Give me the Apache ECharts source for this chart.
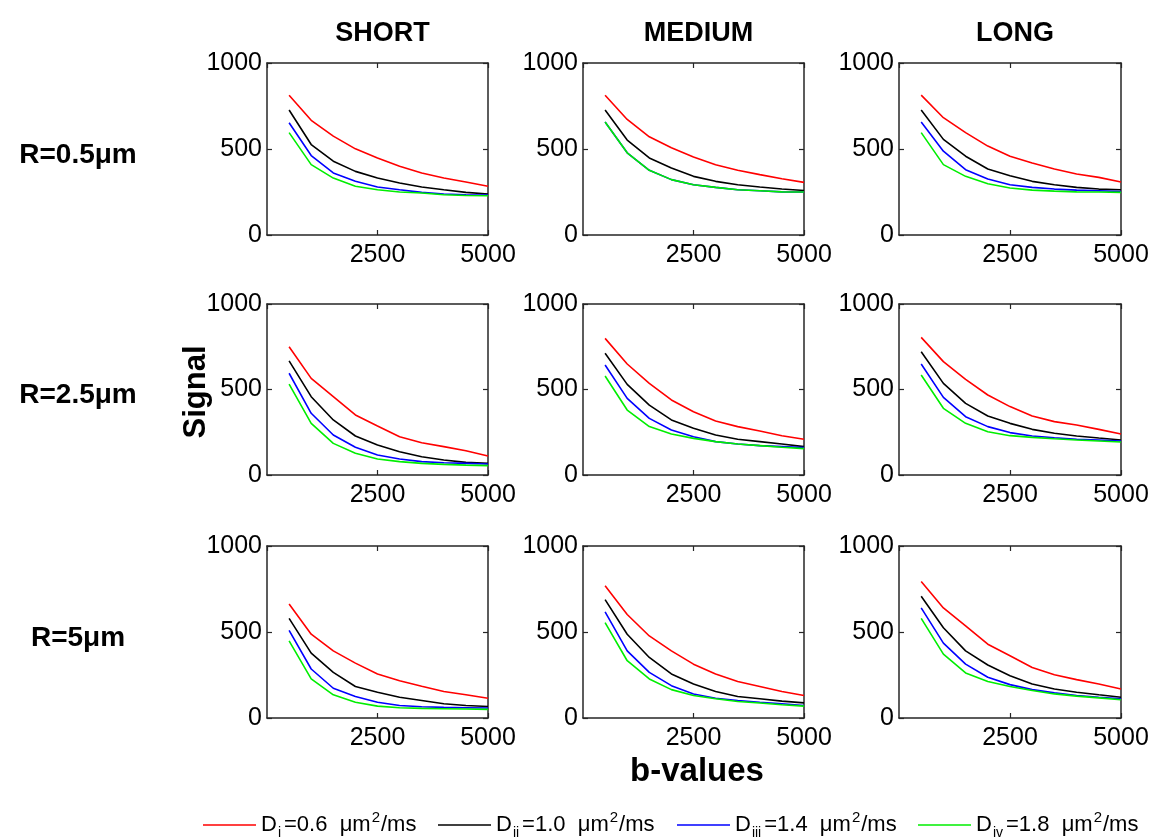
<!DOCTYPE html>
<html>
<head>
<meta charset="utf-8">
<script src="https://cdn.jsdelivr.net/npm/echarts@6/dist/echarts.min.js"></script>
<style>
html,body{margin:0;padding:0;background:#fff;}
#chart{width:1154px;height:839px;}
</style>
</head>
<body>
<div id="chart"></div>
<script>
// ---- data ----
const bValues = [500, 1000, 1500, 2000, 2500, 3000, 3500, 4000, 4500, 5000];
const columnTitles = ['SHORT', 'MEDIUM', 'LONG'];
const rowTitles = ['R=0.5\u03bcm', 'R=2.5\u03bcm', 'R=5\u03bcm'];
const seriesNames = ['Di', 'Dii', 'Diii', 'Div'];
const seriesLabels = [['i', '0.6'], ['ii', '1.0'], ['iii', '1.4'], ['iv', '1.8']];
const xTicks = [0, 2500, 5000];
const yTicks = [0, 500, 1000];

// each panel: [Di, Dii, Diii, Div] signal vs bValues
const R05_SHORT = [
  [813, 667, 575, 501, 448, 400, 361, 331, 308, 283],
  [727, 526, 429, 370, 331, 302, 279, 263, 248, 238],
  [653, 462, 361, 312, 279, 263, 248, 238, 234, 232],
  [595, 409, 331, 283, 263, 250, 244, 234, 230, 228]
];
const R05_MEDIUM = [
  [813, 672, 571, 507, 454, 409, 376, 351, 327, 306],
  [727, 552, 448, 390, 341, 312, 292, 279, 267, 259],
  [657, 478, 376, 322, 292, 277, 263, 257, 251, 250],
  [657, 478, 376, 322, 292, 277, 263, 257, 251, 250]
];
const R05_LONG = [
  [813, 682, 595, 517, 458, 419, 384, 355, 335, 308],
  [727, 556, 458, 384, 345, 312, 292, 277, 267, 263],
  [657, 487, 380, 326, 292, 277, 267, 261, 257, 253],
  [595, 409, 341, 298, 273, 261, 255, 251, 250, 248]
];
const R25_SHORT = [
  [750, 565, 458, 351, 287, 224, 189, 166, 142, 111],
  [667, 458, 322, 228, 175, 136, 107, 88, 74, 68],
  [595, 361, 234, 162, 117, 94, 78, 72, 68, 64],
  [532, 302, 185, 127, 94, 78, 68, 62, 58, 55]
];
const R25_MEDIUM = [
  [799, 649, 536, 439, 370, 316, 283, 257, 230, 209],
  [712, 530, 409, 322, 273, 234, 209, 195, 181, 166],
  [643, 448, 331, 263, 224, 195, 181, 172, 166, 160],
  [579, 380, 283, 240, 214, 195, 181, 172, 162, 154]
];
const R25_LONG = [
  [805, 663, 559, 468, 400, 345, 312, 292, 267, 240],
  [721, 536, 419, 345, 302, 267, 244, 228, 216, 205],
  [649, 454, 341, 283, 248, 228, 218, 209, 205, 199],
  [585, 390, 302, 253, 230, 220, 212, 205, 199, 193]
];
const R5_SHORT = [
  [663, 487, 390, 319, 256, 217, 185, 154, 135, 115],
  [579, 377, 265, 183, 150, 121, 102, 83, 73, 67],
  [510, 285, 173, 125, 92, 73, 65, 62, 60, 58],
  [448, 227, 135, 92, 69, 60, 56, 54, 52, 50]
];
const R5_MEDIUM = [
  [769, 602, 477, 390, 313, 256, 212, 183, 154, 131],
  [688, 487, 352, 256, 198, 154, 125, 112, 98, 88],
  [617, 390, 265, 188, 140, 115, 102, 92, 83, 73],
  [554, 333, 227, 165, 131, 112, 96, 87, 77, 69]
];
const R5_LONG = [
  [794, 640, 535, 429, 362, 294, 252, 223, 198, 169],
  [708, 525, 390, 308, 246, 198, 169, 150, 135, 121],
  [640, 435, 313, 237, 194, 165, 146, 131, 121, 112],
  [579, 371, 262, 212, 183, 160, 140, 127, 117, 106]
];
const panels = [
  [R05_SHORT, R05_MEDIUM, R05_LONG],
  [R25_SHORT, R25_MEDIUM, R25_LONG],
  [R5_SHORT, R5_MEDIUM, R5_LONG]
];

// ---- layout / style ----
const colors = ['#ff0000', '#000000', '#0000ff', '#00ee00'];
const colLeft = [267, 583, 899];
const colWidth = [221, 221, 222];
const rowTop = [63, 304, 546];
const rowHeight = [172, 171, 172];
const FONT = "'Liberation Sans', Arial, Helvetica, sans-serif";
const axisColor = '#262626';
const plain = v => String(v);

const grids = [], xAxes = [], yAxes = [], series = [];
let g = 0;
for (let r = 0; r < 3; r++) {
  for (let c = 0; c < 3; c++) {
    grids.push({left: colLeft[c], top: rowTop[r], width: colWidth[c], height: rowHeight[r], containLabel: false});
    const common = {
      gridIndex: g, type: 'value',
      axisLine: {show: true, onZero: false, lineStyle: {color: axisColor, width: 1.5}},
      axisTick: {show: true, inside: true, length: 5, lineStyle: {color: axisColor, width: 1.2}},
      splitLine: {show: false}
    };
    xAxes.push(Object.assign({}, common, {
      position: 'bottom', min: xTicks[0], max: xTicks[2], interval: xTicks[1] - xTicks[0],
      axisLabel: {show: true, showMinLabel: false, formatter: plain, color: '#000', fontSize: 25, fontFamily: FONT, margin: 8}
    }));
    xAxes.push(Object.assign({}, common, {
      position: 'top', min: xTicks[0], max: xTicks[2], interval: xTicks[1] - xTicks[0],
      axisLabel: {show: false}
    }));
    yAxes.push(Object.assign({}, common, {
      position: 'left', min: yTicks[0], max: yTicks[2], interval: yTicks[1] - yTicks[0],
      axisLabel: {show: true, formatter: plain, color: '#000', fontSize: 25, fontFamily: FONT, margin: 5}
    }));
    yAxes.push(Object.assign({}, common, {
      position: 'right', min: yTicks[0], max: yTicks[2], interval: yTicks[1] - yTicks[0],
      axisLabel: {show: false}
    }));
    const panel = panels[r][c];
    for (let s = 0; s < 4; s++) {
      series.push({
        type: 'line', name: seriesNames[s],
        xAxisIndex: 2 * g, yAxisIndex: 2 * g,
        data: bValues.map((b, k) => [b, panel[s][k]]),
        symbol: 'none', showSymbol: false,
        lineStyle: {color: colors[s], width: 1.6},
        itemStyle: {color: colors[s]},
        animation: false, silent: true
      });
    }
    g++;
  }
}

const titles = [];
for (let c = 0; c < 3; c++) {
  titles.push({text: columnTitles[c], left: colLeft[c] + colWidth[c] / 2, top: 15, textAlign: 'center',
    textStyle: {fontSize: 27, fontWeight: 'bold', color: '#000', fontFamily: FONT}});
}
const rowCenters = [152, 392, 635];
for (let r = 0; r < 3; r++) {
  titles.push({text: rowTitles[r], left: 73, top: rowCenters[r] - 16, textAlign: 'center',
    textStyle: {fontSize: 28, fontWeight: 'bold', color: '#000', fontFamily: FONT}});
}
titles.push({text: 'b-values', left: 692, top: 750, textAlign: 'center',
  textStyle: {fontSize: 33, fontWeight: 'bold', color: '#000', fontFamily: FONT}});

const legendLefts = [198, 433, 672, 913];
const legends = seriesNames.map((n, i) => ({
  data: [n], left: legendLefts[i], top: 805, orient: 'horizontal',
  icon: 'rect', itemWidth: 53, itemHeight: 1.5, itemGap: 0,
  selectedMode: false,
  formatter: () => '{n|D}{s|' + seriesLabels[i][0] + '}{n|=' + seriesLabels[i][1] + '  \u03bcm}{p|2}{n|/ms}',
  textStyle: {
    color: '#000', fontFamily: FONT, fontSize: 22, padding: [0, 0, 0, 0],
    rich: {
      n: {fontSize: 22, fontFamily: FONT, color: '#000', lineHeight: 30, verticalAlign: 'middle'},
      s: {fontSize: 14, fontFamily: FONT, color: '#000', lineHeight: 14, verticalAlign: 'bottom', padding: [0, 3, 0, 1]},
      p: {fontSize: 15, fontFamily: FONT, color: '#000', lineHeight: 15, verticalAlign: 'top', padding: [0, 1, 0, 1]}
    }
  }
}));

const option = {
  backgroundColor: '#fff',
  animation: false,
  title: titles,
  legend: legends,
  grid: grids,
  xAxis: xAxes,
  yAxis: yAxes,
  series: series,
  graphic: [{
    type: 'text', x: 196, y: 392, rotation: Math.PI / 2,
    style: {text: 'Signal', font: 'bold 31px ' + FONT, fill: '#000', textAlign: 'center', textVerticalAlign: 'middle'}
  }]
};

const chart = echarts.init(document.getElementById('chart'), null, {renderer: 'canvas'});
chart.setOption(option);
</script>
</body>
</html>
